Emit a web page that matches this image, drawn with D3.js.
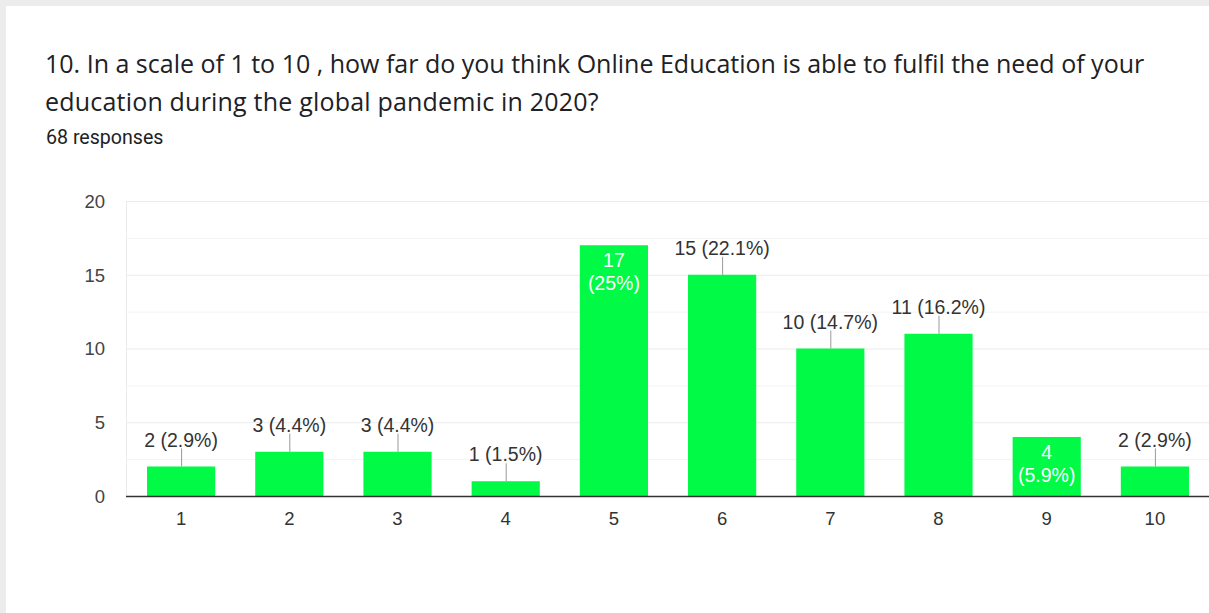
<!DOCTYPE html>
<html>
<head>
<meta charset="utf-8">
<script src="https://cdn.jsdelivr.net/npm/d3@7"></script>
<style>
  html, body { margin: 0; padding: 0; background: #ececec; }
  svg { display: block; }
</style>
</head>
<body>
<svg id="chart" width="1209" height="613"></svg>
<script>
// Survey question and response counts
const titleLines = [
  "10. In a scale of 1 to 10 , how far do you think Online Education is able to fulfil the need of your",
  "education during the global pandemic in 2020?"
];
const subtitle = "68 responses";
const categories = ["1", "2", "3", "4", "5", "6", "7", "8", "9", "10"];
const counts = [2, 3, 3, 1, 17, 15, 10, 11, 4, 2];
const percents = ["2.9%", "4.4%", "4.4%", "1.5%", "25%", "22.1%", "14.7%", "16.2%", "5.9%", "2.9%"];
const yTicks = [0, 5, 10, 15, 20];
const insideLabelBars = ["5", "9"];

const svg = d3.select("#chart");
const W = 1209, H = 613;

// Card background
svg.append("rect").attr("x", 6).attr("y", 6).attr("width", W - 6).attr("height", H - 6)
  .attr("fill", "#ffffff");

// Heading
const title = svg.append("g").attr("font-family", "'Open Sans', sans-serif")
  .attr("fill", "#202124").attr("font-size", 25);
titleLines.forEach((t, i) => {
  title.append("text").attr("x", 45).attr("y", 73 + i * 38)
    .attr("letter-spacing", i === 1 ? 0.2 : 0).text(t);
});
svg.append("text").attr("x", 46).attr("y", 144)
  .attr("font-family", "Roboto, sans-serif").attr("font-size", 19.6)
  .attr("fill", "#202124").text(subtitle);

// Plot area
const m = { left: 126, right: 1209, top: 201, bottom: 496 };
const x = d3.scaleBand().domain(categories).range([m.left + 1, m.right])
  .paddingInner(0.37).paddingOuter(0.185);
const y = d3.scaleLinear().domain([0, 20]).range([m.bottom, m.top]);

const font = "'Liberation Sans', Arial, sans-serif";

// Gridlines: major every 5, minor halfway between
const grid = svg.append("g");
grid.selectAll("line.minor").data(d3.range(2.5, 20, 5)).join("line")
  .attr("x1", m.left).attr("x2", m.right)
  .attr("y1", d => y(d) + 0.5).attr("y2", d => y(d) + 0.5)
  .attr("stroke", "#f3f3f3").attr("stroke-width", 1);
grid.selectAll("line.major").data(yTicks.filter(d => d > 0)).join("line")
  .attr("x1", m.left).attr("x2", m.right)
  .attr("y1", d => y(d) + 0.5).attr("y2", d => y(d) + 0.5)
  .attr("stroke", "#ebebeb").attr("stroke-width", 1);
grid.append("line").attr("x1", m.left + 0.5).attr("x2", m.left + 0.5)
  .attr("y1", m.top).attr("y2", m.bottom).attr("stroke", "#ebebeb");

// Y axis labels
const yAxis = svg.append("g").attr("transform", `translate(${m.left},0)`)
  .call(d3.axisLeft(y).tickValues(yTicks).tickSize(0).tickPadding(21));
yAxis.select(".domain").remove();
yAxis.selectAll("text").attr("font-family", font).attr("font-size", 18.5)
  .attr("fill", "#444").attr("dy", "0.35em");

// Bars
const data = categories.map((c, i) => ({ c, v: counts[i], p: percents[i] }));
svg.append("g").selectAll("rect").data(data).join("rect")
  .attr("x", d => x(d.c)).attr("width", x.bandwidth())
  .attr("y", d => y(d.v)).attr("height", d => y(0) - y(d.v))
  .attr("fill", "#00fa45");

// Baseline and category labels
const xAxis = svg.append("g").attr("transform", `translate(0,${m.bottom})`)
  .call(d3.axisBottom(x).tickSize(0).tickPadding(16));
xAxis.select(".domain").attr("stroke", "#333").attr("stroke-width", 1.3)
  .attr("d", `M${m.left},0.5H${m.right}`);
xAxis.selectAll("text").attr("font-family", font).attr("font-size", 18.5)
  .attr("fill", "#333");

// Value labels
const labels = svg.append("g").attr("font-family", font).attr("font-size", 19.5)
  .attr("text-anchor", "middle");
data.forEach(d => {
  const cx = x(d.c) + x.bandwidth() / 2;
  const top = y(d.v);
  if (insideLabelBars.includes(d.c)) {
    labels.append("text").attr("x", cx).attr("y", top + 22).attr("fill", "#ffffff").text(d.v);
    labels.append("text").attr("x", cx).attr("y", top + 45).attr("fill", "#ffffff").text(`(${d.p})`);
  } else {
    labels.append("line").attr("x1", cx + 0.5).attr("x2", cx + 0.5)
      .attr("y1", top - 18).attr("y2", top).attr("stroke", "#999").attr("stroke-width", 1);
    labels.append("text").attr("x", cx).attr("y", top - 20).attr("fill", "#333")
      .text(`${d.v} (${d.p})`);
  }
});
</script>
</body>
</html>
